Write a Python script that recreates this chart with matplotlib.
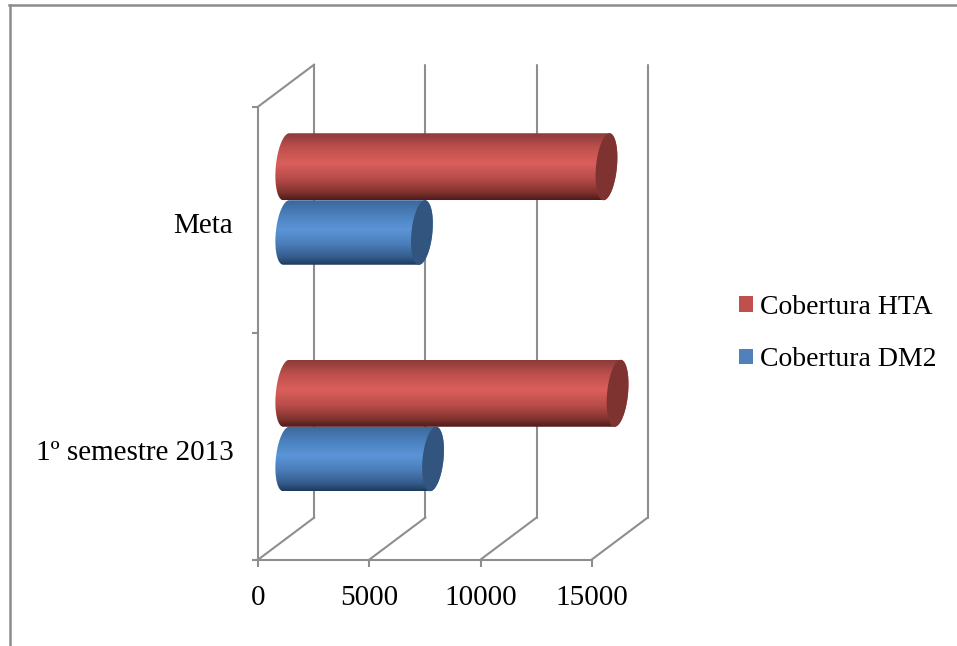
import numpy as np
import matplotlib
matplotlib.use("Agg")
import matplotlib.pyplot as plt
from matplotlib.colors import LinearSegmentedColormap
from matplotlib.lines import Line2D
from matplotlib.patches import Patch, PathPatch, Polygon
from matplotlib.path import Path
from matplotlib.transforms import ScaledTranslation

## Data

categories = ["1º semestre 2013", "Meta"]
cobertura_dm2 = [6600, 6100]
cobertura_hta = [14900, 14400]
value_ticks = [0, 5000, 10000, 15000]

###############################################
## Figure and scales
###############################################

W, H = 957, 646
GREY = "#8e8e8e"
FONT = "Liberation Serif"
LINE = 1.5

fig = plt.figure(figsize=(W / 100, H / 100), dpi=100)
ax = fig.add_axes([0, 0, 1, 1])

# one axes over the whole canvas, x in value units and y in category units
x_per_px = 15000 / 333.5
y_per_px = 2 / 453.0
x_left = -258.3 * x_per_px
x_right = (W - 258.3) * x_per_px
y_bottom = (559.5 - H) * y_per_px
y_top = 559.5 * y_per_px

# 3D box depth
depth_x = 56 * x_per_px
depth_y = 42 * y_per_px

###############################################
## Walls and floor
###############################################

wall = dict(color=GREY, lw=LINE, solid_capstyle="round", zorder=1)
for v in value_ticks:
    ax.plot([v, v + depth_x], [0, depth_y], **wall)
    ax.plot([v + depth_x, v + depth_x], [depth_y, 2 + depth_y], **wall)
ax.plot([0, depth_x], [2, 2 + depth_y], **wall)

for side in ["top", "right"]:
    ax.spines[side].set_visible(False)
ax.spines["left"].set_position(("data", 0))
ax.spines["left"].set_bounds(0, 2)
ax.spines["bottom"].set_position(("data", 0))
ax.spines["bottom"].set_bounds(0, 15000)
for side in ["left", "bottom"]:
    ax.spines[side].set_color(GREY)
    ax.spines[side].set_linewidth(LINE)

ax.set_xticks(value_ticks)
ax.set_yticks([0, 1, 2], labels=[])
ax.set_yticks([0.5, 1.5], labels=categories, minor=True)
ax.tick_params(axis="x", length=5, width=LINE, color=GREY, pad=13.5, labelsize=21, labelfontfamily=FONT)
ax.tick_params(axis="y", which="major", length=4.5, width=LINE, color=GREY)
ax.tick_params(axis="y", which="minor", length=0, pad=18, labelsize=21, labelfontfamily=FONT)

# category labels sit a little under their tick positions
label_shift = ScaledTranslation(0, -2.5 / 72, fig.dpi_scale_trans)
for label in ax.get_yticklabels(minor=True):
    label.set_transform(label.get_transform() + label_shift)

###############################################
## Cylinders
###############################################

red_cmap = LinearSegmentedColormap.from_list("red_tube", [
    (0.0, "#8a3b39"), (0.22, "#c0504d"), (0.45, "#da5f5c"), (0.68, "#b84c49"),
    (0.88, "#81332f"), (1.0, "#4e1c1b")])
blue_cmap = LinearSegmentedColormap.from_list("blue_tube", [
    (0.0, "#3c6699"), (0.22, "#4a7fbc"), (0.45, "#5b95d8"), (0.68, "#4a7db8"),
    (0.88, "#345c8c"), (1.0, "#1e3a5c")])

red_height = 67 * y_per_px
blue_height = 64.5 * y_per_px
tube_lift = 19.5 * y_per_px
cap_a = 10.5 * x_per_px
cap_shear = 3 * x_per_px


def ellipse_pts(cx, cy, height, start, stop):
    t = np.radians(np.linspace(start, stop, 60))
    return np.column_stack([cx + cap_a * np.cos(t) + cap_shear * np.sin(t),
                            cy + height / 2 * np.sin(t)])


def draw_tube(value, center, height, cmap, cap_color):
    x0 = depth_x / 2
    x1 = x0 + value
    yc = center + tube_lift
    outline = np.vstack([ellipse_pts(x1, yc, height, -90, 90), ellipse_pts(x0, yc, height, 90, 270)])
    shape = PathPatch(Path(np.vstack([outline, outline[0]])), facecolor="none", edgecolor="none",
                      transform=ax.transData)
    ax.add_patch(shape)
    im = ax.imshow(np.linspace(0, 1, 256)[:, None], cmap=cmap, aspect="auto", origin="upper",
                   extent=(x0 - cap_a * 1.5, x1 + cap_a * 1.5, yc - height / 2, yc + height / 2),
                   zorder=2, interpolation="bilinear")
    im.set_clip_path(shape)
    ax.add_patch(Polygon(ellipse_pts(x1, yc, height, 0, 360), closed=True, facecolor=cap_color,
                         edgecolor="none", zorder=2))


for i in range(len(categories)):
    draw_tube(cobertura_dm2[i], i + 0.5 - blue_height / 2, blue_height, blue_cmap, "#32557f")
    draw_tube(cobertura_hta[i], i + 0.5 + red_height / 2, red_height, red_cmap, "#7f3331")

ax.set_xlim(x_left, x_right)
ax.set_ylim(y_bottom, y_top)

###############################################
## Legend and outer frame
###############################################

handles = [Patch(facecolor="#c0504d", label="Cobertura HTA"),
           Patch(facecolor="#4f81bd", label="Cobertura DM2")]
ax.legend(handles=handles, loc="center left", bbox_to_anchor=(739 / W, 1 - 333.5 / H), frameon=False,
          prop={"family": FONT, "size": 20}, handlelength=0.5, handleheight=0.5, handletextpad=0.25,
          labelspacing=1.0, borderpad=0, borderaxespad=0)

fig.add_artist(Line2D([9 / W, 1], [1 - 5.2 / H, 1 - 5.2 / H], color="#8c8c8c", lw=1.8))
fig.add_artist(Line2D([10.2 / W, 10.2 / W], [0, 1 - 5.2 / H], color="#8c8c8c", lw=1.8))

fig.savefig("out.png", dpi=100)
